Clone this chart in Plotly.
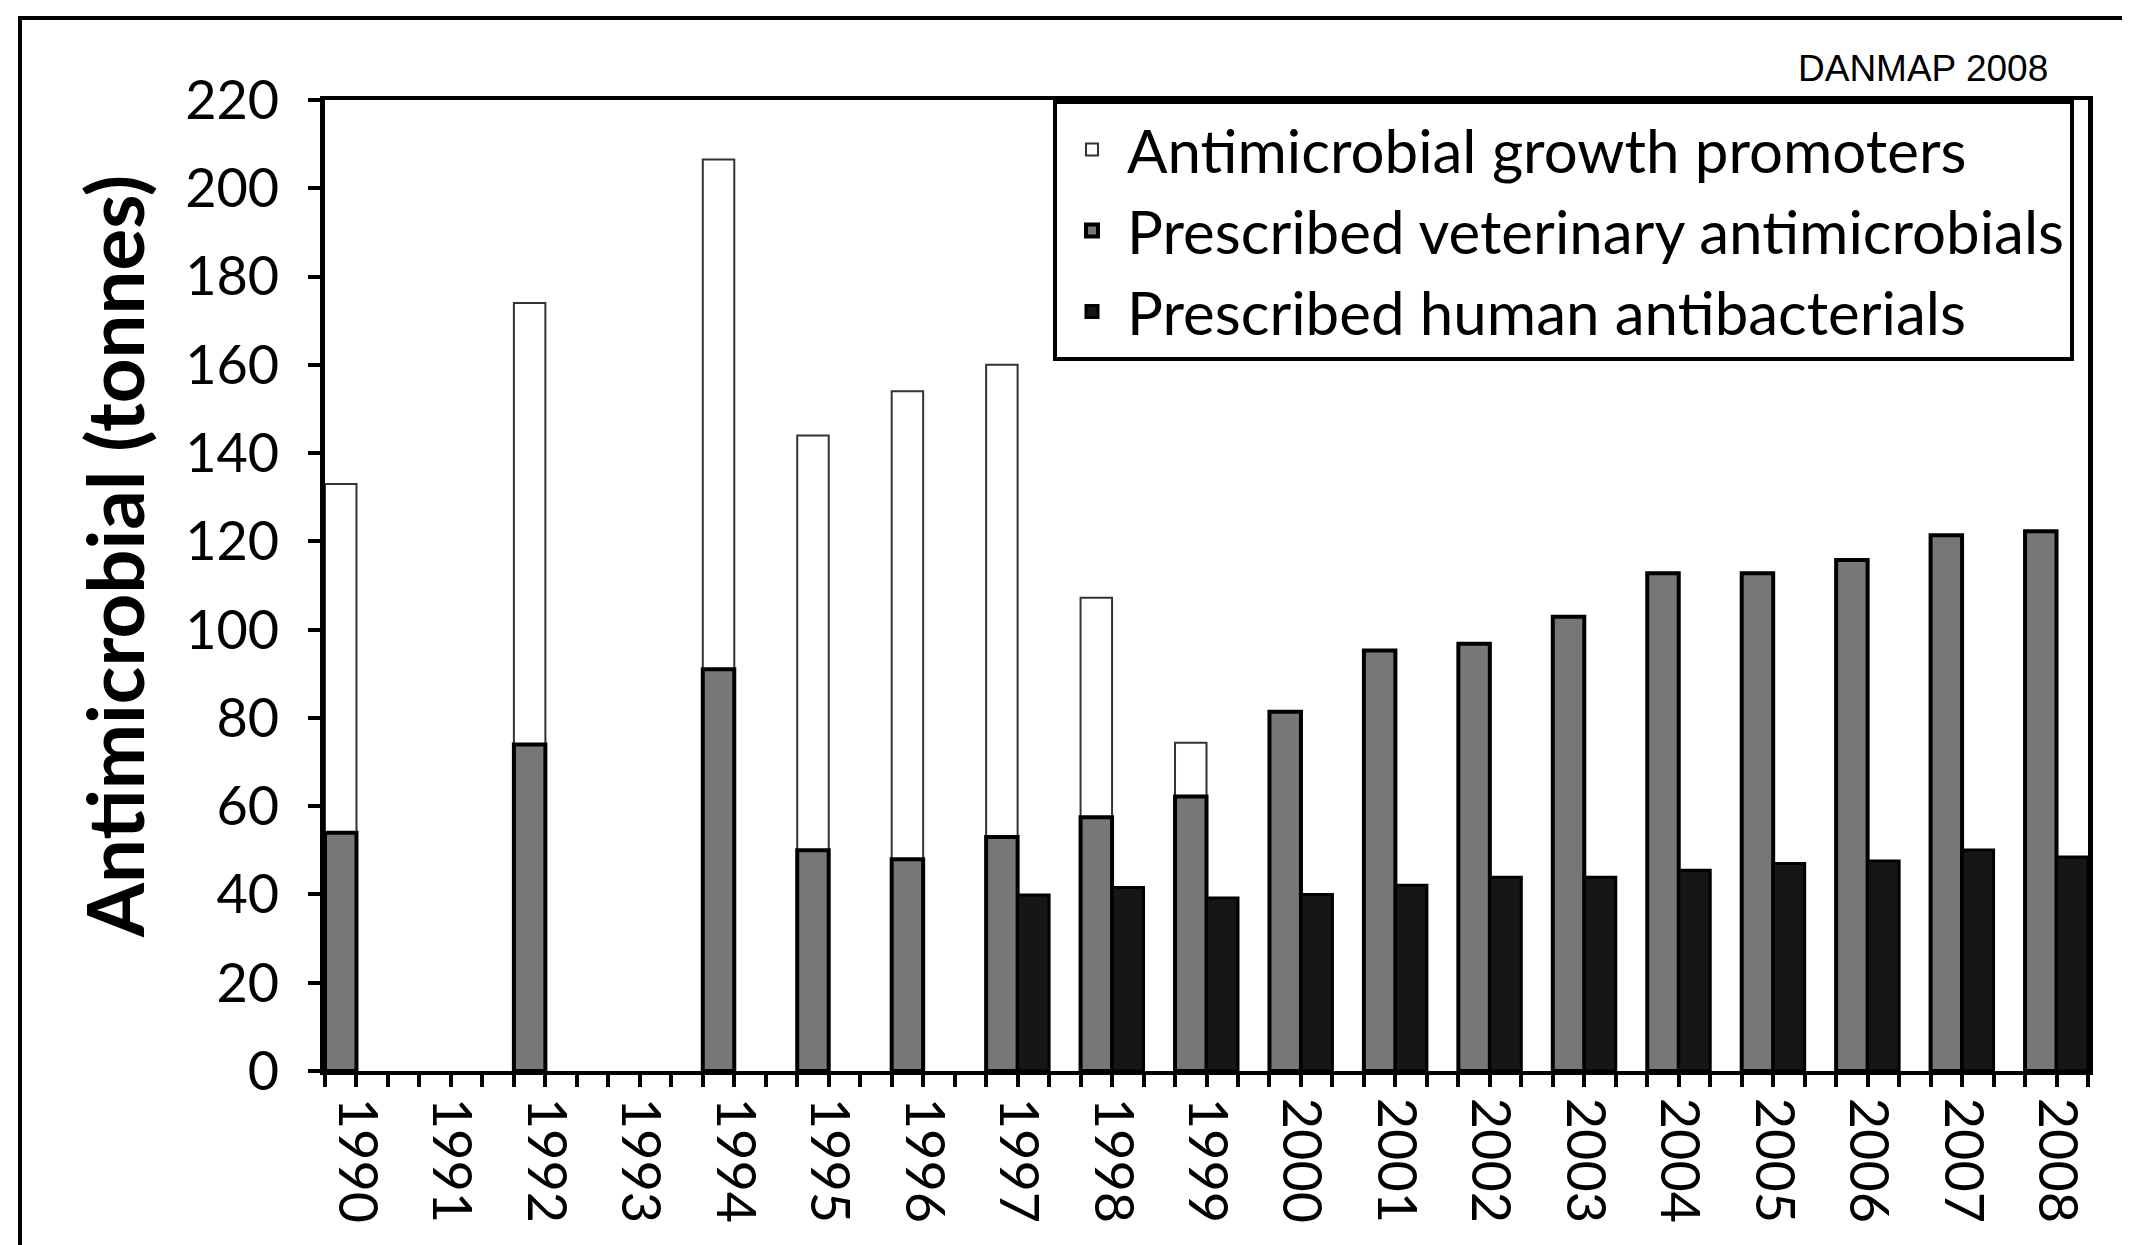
import plotly.graph_objects as go

years = [1990, 1991, 1992, 1993, 1994, 1995, 1996, 1997, 1998, 1999,
         2000, 2001, 2002, 2003, 2004, 2005, 2006, 2007, 2008]
veterinary = [54, None, 74, None, 91, 50, 48, 53, 57.5, 62.2,
              81.4, 95.3, 96.8, 102.9, 112.8, 112.8, 115.8, 121.4, 122.3]
growth_promoters = [79, None, 100, None, 115.5, 94, 106, 107, 49.7, 12.2,
                    None, None, None, None, None, None, None, None, None]
human = [None, None, None, None, None, None, None, 39.9, 41.6, 39.2,
         40.0, 42.1, 43.9, 43.9, 45.5, 47.0, 47.6, 50.1, 48.5]

series_names = ["Antimicrobial growth promoters",
                "Prescribed veterinary antimicrobials",
                "Prescribed human antibacterials"]
y_ticks = list(range(0, 221, 20))
y_title = "Antimicrobial (tonnes)"

FONT = "Lato, 'Open Sans', sans-serif"
BW = 1 / 3  # bar width in category units

# plot area in pixels (for paper-coordinate conversions of decorations)
L, R, T, B = 317, 2080, 92, 1063
PW, PH = R - L, B - T

fig = go.Figure()

fig.add_trace(go.Bar(
    name=series_names[0], x=years, y=growth_promoters, base=veterinary,
    width=BW, offset=-BW,
    marker=dict(color="white", line=dict(color="#333333", width=2)),
))
fig.add_trace(go.Bar(
    name=series_names[1], x=years, y=veterinary,
    width=BW, offset=-BW,
    marker=dict(color="#777777", line=dict(color="black", width=4)),
))
fig.add_trace(go.Bar(
    name=series_names[2], x=years, y=human,
    width=BW, offset=0,
    marker=dict(color="#161616", line=dict(color="black", width=3)),
))

# category ticks every third of a year, labels at the year centres
tickvals, ticktext = [], []
for i, yr in enumerate(years):
    for k in range(3):
        tickvals.append(yr - BW + k * BW)
        ticktext.append(str(yr) if k == 1 else "")
tickvals.append(years[-1] + BW)
ticktext.append("")

fig.update_layout(
    width=2130, height=1245,
    margin=dict(l=L, r=2130 - R, t=T, b=1245 - B),
    paper_bgcolor="white", plot_bgcolor="white",
    barmode="overlay",
    font=dict(family=FONT, color="black"),
    showlegend=True,
    legend=dict(
        x=(1045 - L) / PW, y=1, xanchor="left", yanchor="top",
        bgcolor="white", bordercolor="black", borderwidth=4,
        font=dict(size=60, family=FONT, color="black"),
        traceorder="normal", itemwidth=60,
    ),
    xaxis=dict(
        range=[years[0] - BW, years[-1] + BW],
        tickmode="array", tickvals=tickvals, ticktext=ticktext,
        tickangle=90, ticks="outside", ticklen=12, tickwidth=4,
        tickcolor="black", showline=True, linecolor="black", linewidth=4,
        mirror=True, showgrid=False, zeroline=False, automargin=False,
        tickfont=dict(size=54, family=FONT, color="black"),
    ),
    yaxis=dict(
        range=[0, 220], tickmode="array", tickvals=y_ticks,
        ticks="outside", ticklen=12, tickwidth=4, tickcolor="black",
        showline=True, linecolor="black", linewidth=5, mirror=True,
        showgrid=False, zeroline=False, automargin=False,
        tickfont=dict(size=54, family=FONT, color="black"),
        ticklabelstandoff=18,
    ),
    annotations=[
        dict(
            text="DANMAP 2008", xref="paper", yref="paper",
            x=(2042 - L) / PW, y=(B - 61) / PH,
            xanchor="right", yanchor="middle", showarrow=False,
            font=dict(size=37, family="'Liberation Sans Narrow', 'Liberation Sans', sans-serif",
                      color="black"),
        ),
        dict(
            text="<b>" + y_title + "</b>", xref="paper", yref="paper",
            x=(106 - L) / PW, y=(B - 549) / PH, textangle=-90,
            xanchor="center", yanchor="middle", showarrow=False,
            font=dict(size=78, family=FONT, color="black"),
        ),
    ],
    shapes=[dict(
        type="rect", xref="paper", yref="paper",
        x0=(12 - L) / PW, x1=1.5, y0=-1.0, y1=(B - 10) / PH,
        line=dict(color="black", width=4), layer="below",
    )],
)

fig.write_html("out.html")
